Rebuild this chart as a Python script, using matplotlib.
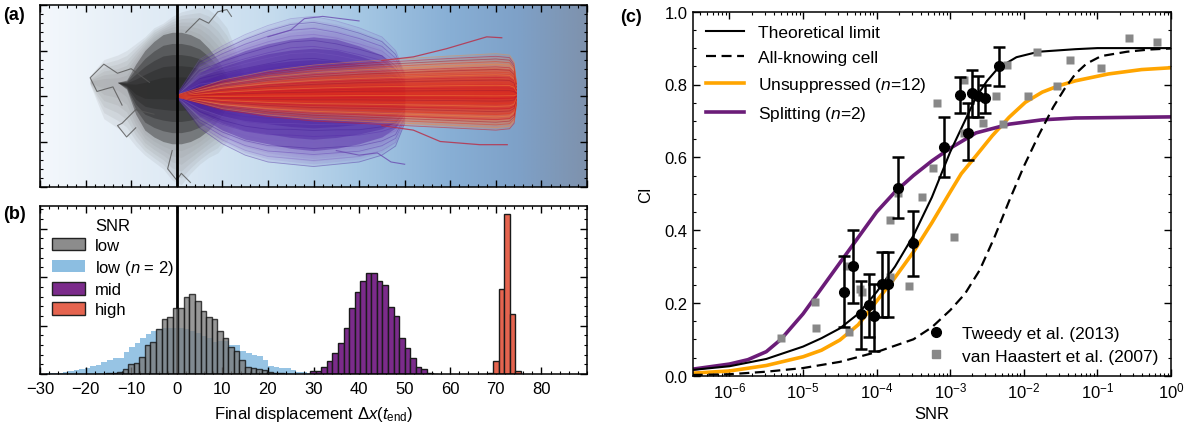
import numpy as np
import matplotlib
matplotlib.use('Agg')
import matplotlib.pyplot as plt
from matplotlib.colors import LinearSegmentedColormap
from matplotlib.lines import Line2D
from matplotlib.patches import Patch
from matplotlib.ticker import MultipleLocator, LogLocator, NullFormatter

plt.rcParams['font.family'] = ['Liberation Sans', 'DejaVu Sans']
plt.rcParams['mathtext.fontset'] = 'custom'
plt.rcParams['mathtext.rm'] = 'Liberation Sans'
plt.rcParams['mathtext.it'] = 'Liberation Sans:italic'
plt.rcParams['mathtext.bf'] = 'Liberation Sans:bold'

# ---------------- panel (a): trajectory envelopes ----------------
gray_x = [-19, -16, -13, -11, -9, -7, -5, -3, -1, 1, 3, 5, 7, 9, 11, 13, 15]
gray_out_up = [0.45, 0.8, 0.9, 1.0, 1.15, 1.3, 1.5, 1.6, 1.75, 1.85, 1.9, 1.95, 1.9, 1.75, 1.5, 1.0, 0.4]
gray_out_lo = [0.25, -0.5, -0.7, -0.85, -1.1, -1.3, -1.45, -1.6, -1.85, -1.95, -1.7, -1.5, -1.35, -1.25, -1.0, -0.6, -0.2]
gray_core_up = [0.3, 0.3, 0.3, 0.35, 0.7, 1.0, 1.2, 1.35, 1.4, 1.4, 1.35, 1.25, 1.05, 0.8, 0.45, 0.2, 0.1]
gray_core_lo = [0.3, 0.3, 0.3, 0.15, -0.4, -0.75, -0.9, -1.0, -1.05, -1.05, -1.0, -0.9, -0.75, -0.55, -0.25, -0.05, 0.0]

purp_x = [0, 5, 10, 15, 20, 25, 30, 35, 40, 45, 48, 50]
purp_out_up = [0.03, 0.8, 1.1, 1.35, 1.55, 1.7, 1.75, 1.65, 1.5, 1.3, 1.0, 0.5]
purp_out_lo = [-0.03, -0.7, -1.05, -1.3, -1.45, -1.5, -1.55, -1.5, -1.45, -1.3, -1.1, -0.6]
purp_core_up = [0.0, 0.5, 0.8, 1.0, 1.15, 1.25, 1.3, 1.25, 1.1, 0.9, 0.6, 0.3]
purp_core_lo = [0.0, -0.45, -0.75, -0.95, -1.05, -1.15, -1.2, -1.15, -1.05, -0.9, -0.7, -0.4]

red_x = [0, 10, 20, 30, 40, 50, 60, 70, 73, 74, 74.5]
red_out_up = [0.02, 0.35, 0.55, 0.68, 0.76, 0.82, 0.88, 0.93, 0.9, 0.75, 0.3]
red_out_lo = [-0.02, -0.3, -0.45, -0.55, -0.6, -0.65, -0.7, -0.75, -0.72, -0.6, -0.2]
red_core_up = [0.0, 0.2, 0.33, 0.42, 0.5, 0.55, 0.6, 0.62, 0.6, 0.5, 0.2]
red_core_lo = [0.0, -0.17, -0.28, -0.35, -0.4, -0.45, -0.5, -0.52, -0.5, -0.4, -0.12]

gray_strays = [
    ([-6, -10, -13, -16, -19, -17.5, -14, -12], [0.3, 0.6, 0.5, 0.7, 0.4, 0.1, 0.2, -0.2]),
    ([-5, -9, -12, -13, -11, -9], [-0.4, -0.3, -0.6, -0.65, -0.9, -0.7]),
    ([2, 5, 7, 9, 11, 12], [1.4, 1.7, 1.6, 1.85, 1.9, 1.75]),
    ([-1, -2, 0, 1, 3], [-1.2, -1.6, -1.85, -1.7, -1.9]),
]
purp_strays = [
    ([20, 25, 28, 32, 36, 40], [1.3, 1.45, 1.7, 1.75, 1.7, 1.65]),
    ([35, 40, 44, 47, 50], [-1.2, -1.3, -1.25, -1.45, -1.5]),
]
red_strays = [
    ([45, 51.9, 59.2, 68, 71.3], [0.78, 0.86, 1.04, 1.3, 1.28]),
    ([45, 51.9, 57.8, 66.5, 72.5], [-0.65, -0.75, -1.0, -1.07, -1.07]),
]

# ---------------- panel (b): histograms (bin width ~1.22) ----------------
bin_w = 1.22
gray_start = -17.96
gray_h = [0.01, 0.01, 0.02, 0.03, 0.05, 0.10, 0.21, 0.23, 0.36, 0.60, 0.67, 0.93, 1.14, 1.18,
          1.36, 1.36, 1.60, 1.66, 1.51, 1.30, 1.17, 1.13, 0.89, 0.74, 0.55, 0.48, 0.28, 0.15,
          0.12, 0.10, 0.08, 0.05, 0.03, 0.02, 0.01]
blue_start = -29.94
blue_h = [0.01, 0.02, 0.02, 0.03, 0.04, 0.06, 0.08, 0.10, 0.13, 0.16, 0.19, 0.24, 0.29, 0.34,
          0.34, 0.45, 0.55, 0.65, 0.75, 0.82, 0.88, 0.92, 0.95, 0.96, 0.96, 0.94, 0.92, 0.88,
          0.84, 0.78, 0.75, 0.66, 0.68, 0.69, 0.60, 0.60, 0.48, 0.43, 0.39, 0.38, 0.29, 0.17,
          0.15, 0.12, 0.13, 0.08, 0.05, 0.04, 0.02]
purp_start = 29.27
purp_h = [0.07, 0.07, 0.14, 0.26, 0.43, 0.64, 0.95, 1.36, 1.70, 1.92, 2.08, 2.08, 1.92, 1.84,
          1.39, 1.19, 0.74, 0.53, 0.34, 0.15, 0.10, 0.03, 0.01]
red_start = 68.2
red_h = [0.02, 0.26, 1.76, 3.31, 1.24, 0.07]

# ---------------- panel (c) ----------------
theo_log = [-6.5, -6.0, -5.5, -5.0, -4.75, -4.5, -4.25, -4.0, -3.75, -3.5, -3.25, -3.0, -2.75,
            -2.65, -2.5, -2.35, -2.1, -1.8, -1.3, -1.0, 0.0]
theo_ci = [0.016, 0.026, 0.046, 0.080, 0.103, 0.13, 0.17, 0.23, 0.30, 0.385, 0.49, 0.615, 0.722,
           0.765, 0.81, 0.845, 0.875, 0.89, 0.897, 0.9, 0.9]
know_log = [-6.5, -6.0, -5.5, -5.0, -4.5, -4.0, -3.5, -3.25, -3.0, -2.8, -2.6, -2.4, -2.2, -2.0,
            -1.8, -1.6, -1.45, -1.3, -1.15, -0.95, -0.6, -0.3, 0.0]
know_ci = [0.002, 0.004, 0.011, 0.021, 0.038, 0.065, 0.10, 0.133, 0.18, 0.225, 0.29, 0.38, 0.48,
           0.575, 0.66, 0.738, 0.787, 0.829, 0.857, 0.878, 0.89, 0.896, 0.899]
unsup_log = [-6.5, -6.0, -5.5, -5.0, -4.75, -4.5, -4.25, -4.0, -3.75, -3.5, -3.25, -3.0, -2.85,
             -2.65, -2.43, -2.2, -1.98, -1.75, -1.52, -1.3, -0.85, -0.4, 0.0]
unsup_ci = [0.007, 0.013, 0.028, 0.052, 0.07, 0.098, 0.14, 0.205, 0.27, 0.34, 0.42, 0.505, 0.555,
            0.604, 0.659, 0.71, 0.751, 0.779, 0.797, 0.81, 0.829, 0.841, 0.846]
split_log = [-6.5, -6.0, -5.75, -5.5, -5.3, -5.0, -4.75, -4.5, -4.25, -4.0, -3.75, -3.5, -3.25,
             -3.0, -2.65, -2.2, -1.75, -1.3, 0.0]
split_ci = [0.018, 0.032, 0.044, 0.066, 0.10, 0.17, 0.24, 0.31, 0.38, 0.45, 0.505, 0.55, 0.59,
            0.625, 0.667, 0.691, 0.703, 0.708, 0.711]

tw_log = [-4.441, -4.317, -4.217, -4.108, -4.033, -3.933, -3.844, -3.709, -3.51, -3.087,
          -2.863, -2.763, -2.703, -2.624, -2.524, -2.34]
tw_ci = [0.231, 0.302, 0.169, 0.194, 0.163, 0.252, 0.252, 0.517, 0.364, 0.629, 0.771,
         0.668, 0.777, 0.769, 0.762, 0.852]
tw_lo = [0.133, 0.20, 0.073, 0.105, 0.069, 0.16, 0.16, 0.432, 0.275, 0.545, 0.723, 0.593,
         0.71, 0.71, 0.723, 0.795]
tw_hi = [0.33, 0.40, 0.26, 0.28, 0.252, 0.339, 0.339, 0.60, 0.452, 0.712, 0.82, 0.75,
         0.84, 0.824, 0.80, 0.904]

vh_log = [-5.303, -4.840, -4.820, -4.397, -4.381, -4.232, -4.197, -3.824, -3.824, -3.709, -3.560,
          -3.385, -3.236, -3.186, -2.952, -2.813, -2.813, -2.56, -2.38, -2.235, -2.278, -1.818,
          -1.944, -1.556, -1.376, -0.947, -0.564, -0.19]
vh_ci = [0.103, 0.203, 0.130, 0.302, 0.121, 0.238, 0.229, 0.428, 0.270, 0.502, 0.247, 0.490,
         0.570, 0.749, 0.382, 0.812, 0.666, 0.693, 0.769, 0.854, 0.691, 0.89, 0.769, 0.795, 0.867,
         0.845, 0.927, 0.916]

# ---------------- figure ----------------
W, H = 1193, 427
fig = plt.figure(figsize=(W / 100, H / 100), dpi=100)
axA = fig.add_axes([40 / W, 1 - 188 / H, 547 / W, 182 / H])
axB = fig.add_axes([40 / W, 1 - 375 / H, 547 / W, 168 / H])
axC = fig.add_axes([692.7 / W, 1 - 376.7 / H, (1171 - 692.7) / W, 364 / H])

def style_ticks(ax):
    ax.tick_params(which='both', direction='in', top=True, right=True)
    ax.tick_params(which='major', length=5, width=1)
    ax.tick_params(which='minor', length=2.5, width=0.8)
    for s in ax.spines.values():
        s.set_linewidth(1.1)

# ---- panel (a)
bg_nodes = [(0.0, '#f4f8fc'), (0.25, '#dde9f4'), (0.42, '#c6dcee'), (0.58, '#a6c8e4'),
            (0.75, '#88afd5'), (0.875, '#7ea1c8'), (1.0, '#7e92ad')]
bg_cmap = LinearSegmentedColormap.from_list('bg', bg_nodes)
axA.imshow(np.linspace(0, 1, 512)[None, :], extent=[-30, 90, -2, 2], aspect='auto',
           cmap=bg_cmap, zorder=0, interpolation='bilinear')

def band(ax, x, cu, cl, ou, ol, c_out, c_core, z, a_out=0.16, a_core=0.22, lines=None):
    x = np.asarray(x, float); cu = np.asarray(cu); cl = np.asarray(cl)
    ou = np.asarray(ou); ol = np.asarray(ol)
    for t in np.linspace(1.0, 0.0, 7):
        ax.fill_between(x, cl + t * (ol - cl), cu + t * (ou - cu), color=c_out, alpha=a_out,
                        lw=0, zorder=z)
    for t in np.linspace(1.0, 0.2, 5):
        mid = 0.5 * (cu + cl)
        ax.fill_between(x, mid + t * (cl - mid), mid + t * (cu - mid), color=c_core,
                        alpha=a_core, lw=0, zorder=z + 0.1)
    if lines:
        cols, n, a = lines
        for i, t in enumerate(np.linspace(0.0, 1.0, n)):
            ax.plot(x, ol + t * (ou - ol), color=cols[i % len(cols)], lw=0.6, alpha=a,
                    zorder=z + 0.2)

band(axA, gray_x, gray_core_up, gray_core_lo, gray_out_up, gray_out_lo, '#8a8a8a', '#222222',
     1, a_out=0.13, a_core=0.36)
for sx, sy in gray_strays:
    axA.plot(sx, sy, color='#555555', lw=0.8, alpha=0.8, zorder=1.3)
band(axA, purp_x, purp_core_up, purp_core_lo, purp_out_up, purp_out_lo, '#8a70c8', '#44169a',
     2, a_out=0.16, a_core=0.36, lines=(['#3a1290', '#7a5cc0', '#5224a8'], 26, 0.35))
for sx, sy in purp_strays:
    axA.plot(sx, sy, color='#6a4ab0', lw=0.8, alpha=0.8, zorder=2.3)
band(axA, red_x, red_core_up, red_core_lo, red_out_up, red_out_lo, '#ef7040', '#d8201a',
     3, a_out=0.16, a_core=0.3, lines=(['#c8102a', '#f48a3a', '#e23a1e', '#a0182e'], 30, 0.5))
for sx, sy in red_strays:
    axA.plot(sx, sy, color='#b8304a', lw=0.9, alpha=0.85, zorder=3.3)
axA.axvline(0, color='black', lw=2, zorder=5)
axA.set_xlim(-30, 90)
axA.set_ylim(-2, 2)
axA.xaxis.set_major_locator(MultipleLocator(10))
axA.xaxis.set_minor_locator(MultipleLocator(2))
axA.yaxis.set_major_locator(MultipleLocator(1))
axA.yaxis.set_minor_locator(MultipleLocator(0.2))
axA.set_xticklabels([]); axA.set_yticklabels([])
style_ticks(axA)

# ---- panel (b)
def edges(start, n):
    return [start + bin_w * i for i in range(n)]

axB.axvline(0, color='black', lw=2, zorder=1.5)
axB.bar(edges(blue_start, len(blue_h)), blue_h, width=bin_w, align='edge', color='#8cbee1',
        alpha=0.9, lw=0, zorder=1)
axB.bar(edges(gray_start, len(gray_h)), gray_h, width=bin_w, align='edge', color='#7a7a7a',
        alpha=0.78, edgecolor='#111111', lw=1.0, zorder=2)
axB.bar(edges(purp_start, len(purp_h)), purp_h, width=bin_w, align='edge', color='#7b2b8b',
        edgecolor='#1a1a1a', lw=1.0, zorder=2)
axB.bar(edges(red_start, len(red_h)), red_h, width=bin_w, align='edge', color='#e5644f',
        edgecolor='#1a1a1a', lw=1.0, zorder=2)
axB.set_xlim(-30, 90)
axB.set_ylim(0, 3.47)
axB.xaxis.set_major_locator(MultipleLocator(10))
axB.xaxis.set_minor_locator(MultipleLocator(2))
axB.yaxis.set_major_locator(MultipleLocator(1))
axB.yaxis.set_minor_locator(MultipleLocator(0.2))
axB.set_yticklabels([])
axB.set_xticks(range(-30, 81, 10))
axB.tick_params(axis='x', labelsize=12, pad=5)
axB.set_xlabel(r'Final displacement $\Delta x(t_{\rm end})$', fontsize=12, labelpad=6)
style_ticks(axB)
leg_handles = [Patch(facecolor='#8c8c8c', edgecolor='#222222', lw=1.0),
               Patch(facecolor='#8cbee1', edgecolor='none'),
               Patch(facecolor='#7b2b8b', edgecolor='#222222', lw=1.0),
               Patch(facecolor='#e5644f', edgecolor='#222222', lw=1.0)]
lgB = axB.legend(leg_handles, ['low', 'low ($n$ = 2)', 'mid', 'high'], title='SNR',
                 loc='upper left', bbox_to_anchor=(0.0, 1.0), frameon=False, fontsize=12,
                 title_fontsize=12, handlelength=2.0, handleheight=0.8, labelspacing=0.3,
                 handletextpad=0.6, borderaxespad=0.3)

# ---- panel (c)
def p10(v):
    return [10.0 ** a for a in v]

axC.plot(p10(theo_log), theo_ci, color='black', lw=1.5, label='Theoretical limit', zorder=3)
axC.plot(p10(know_log), know_ci, color='black', lw=1.6, ls=(0, (4.5, 2.5)),
         label='All-knowing cell', zorder=3)
axC.plot(p10(unsup_log), unsup_ci, color='#ffa500', lw=2.6, label='Unsuppressed ($n$=12)',
         zorder=2)
axC.plot(p10(split_log), split_ci, color='#6b1c78', lw=2.6, label='Splitting ($n$=2)', zorder=2)
axC.plot(p10(vh_log), vh_ci, ls='none', marker='s', ms=6, color='#888888', mec='none', zorder=4)
yerr = [[c - l for c, l in zip(tw_ci, tw_lo)], [h - c for c, h in zip(tw_ci, tw_hi)]]
axC.errorbar(p10(tw_log), tw_ci, yerr=yerr, fmt='o', ms=7, color='black', ecolor='black',
             elinewidth=1.8, capsize=4, capthick=1.8, zorder=5)
axC.set_xscale('log')
axC.set_xlim(10 ** -6.5, 1)
axC.set_ylim(0, 1)
axC.xaxis.set_major_locator(LogLocator(base=10, numticks=20))
axC.xaxis.set_minor_locator(LogLocator(base=10, subs=np.arange(2, 10), numticks=20))
axC.xaxis.set_minor_formatter(NullFormatter())
axC.yaxis.set_major_locator(MultipleLocator(0.2))
axC.yaxis.set_minor_locator(MultipleLocator(0.05))
axC.tick_params(labelsize=12)
axC.set_xlabel('SNR', fontsize=12, labelpad=4)
axC.set_ylabel('CI', fontsize=12, labelpad=8)
style_ticks(axC)
lg1 = axC.legend(loc='upper left', frameon=False, fontsize=12.5, handlelength=2.2,
                 labelspacing=0.58, handletextpad=0.8, borderaxespad=0.35)
axC.add_artist(lg1)
h2 = [Line2D([], [], ls='none', marker='o', ms=7, color='black'),
      Line2D([], [], ls='none', marker='s', ms=6, color='#888888')]
axC.legend(h2, ['Tweedy et al. (2013)', 'van Haastert et al. (2007)'], loc='lower right',
           frameon=False, fontsize=12.5, handlelength=1.5, handletextpad=0.8, labelspacing=0.45,
           borderaxespad=0.3)

fig.text(3 / W, 1 - 15 / H, '(a)', fontsize=13, fontweight='bold', va='center', ha='left')
fig.text(3 / W, 1 - 215 / H, '(b)', fontsize=13, fontweight='bold', va='center', ha='left')
fig.text(620 / W, 1 - 17 / H, '(c)', fontsize=13, fontweight='bold', va='center', ha='left')

fig.savefig('out.png', dpi=100)
